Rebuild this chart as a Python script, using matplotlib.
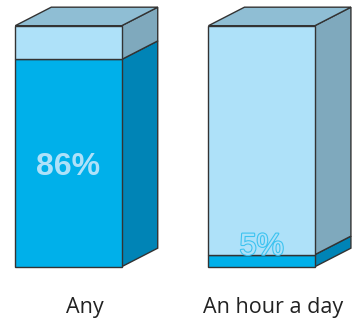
import numpy as np
import matplotlib
matplotlib.use("Agg")
from matplotlib import pyplot as plt
from matplotlib.patches import Polygon
import matplotlib.patheffects as pe

# Share of respondents, by amount of use
categories = ["Any", "An hour a day"]
values = [86, 5]
value_labels = ["86%", "5%"]

fill_front = "#00b0ea"
fill_side = "#0084b6"
rest_front = "#aee1f9"
rest_side = "#7fa9bd"
top_color = "#8fbed4"
edge = "#333333"

width = 0.551
dx, dy = 0.1863, 7.68   # depth offset of the boxes

fig = plt.figure(figsize=(3.59, 3.25), dpi=100)
ax = fig.add_axes([0, 0, 1, 1])
ax.set_xlim(-0.3546, 1.5036)
ax.set_ylim(-24.2, 110.66)
ax.axis("off")

x = np.arange(len(categories))
ax.bar(x, values, width, color=fill_front, edgecolor=edge, linewidth=1, zorder=2)
ax.bar(x, [100 - v for v in values], width, bottom=values, color=rest_front,
       edgecolor=edge, linewidth=1, zorder=2)

for i, v in enumerate(values):
    r = x[i] + width / 2
    l = x[i] - width / 2
    # side face, filled part then the remainder
    ax.add_patch(Polygon([(r, 0), (r + dx, dy), (r + dx, v + dy), (r, v)],
                         closed=True, facecolor=fill_side, edgecolor=edge, lw=1, zorder=1))
    ax.add_patch(Polygon([(r, v), (r + dx, v + dy), (r + dx, 100 + dy), (r, 100)],
                         closed=True, facecolor=rest_side, edgecolor=edge, lw=1, zorder=1))
    # top face
    ax.add_patch(Polygon([(l, 100), (l + dx, 100 + dy), (r + dx, 100 + dy), (r, 100)],
                         closed=True, facecolor=top_color, edgecolor=edge, lw=1, zorder=1))

# value labels
ax.text(x[0], 41.5, value_labels[0], ha="center", va="center", fontsize=23,
        fontweight="bold", family="Liberation Sans", color="#aee1f9", zorder=3)
t = ax.text(x[1], 8.3, value_labels[1], ha="center", va="center", fontsize=22,
            family="Liberation Sans", color="#aee1f9", zorder=3)
t.set_path_effects([pe.withStroke(linewidth=1.6, foreground="#3cc3f0")])

# category names, shifted a bit right under the boxes
for i, c in enumerate(categories):
    ax.text(x[i] + 0.0854 - 0.027 * i, -19.2, c, ha="center", va="baseline",
            fontsize=15.5, family="Open Sans", color="#222222")

fig.savefig("out.png", dpi=100)
